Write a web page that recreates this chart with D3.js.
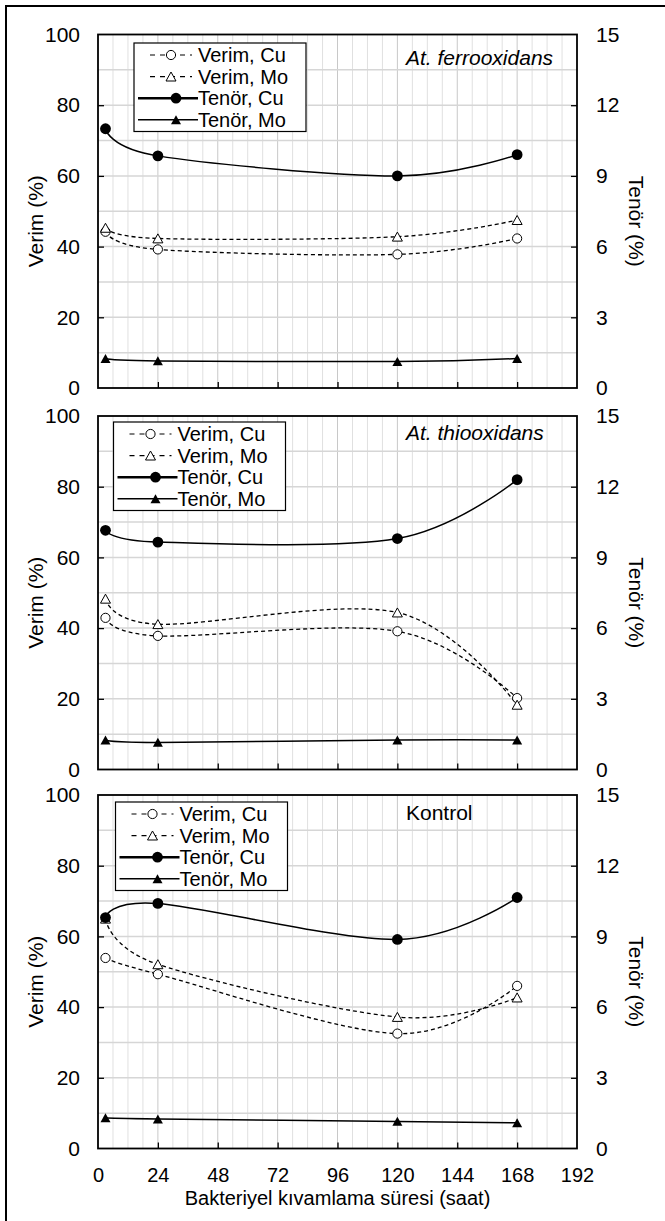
<!DOCTYPE html>
<html><head><meta charset="utf-8">
<script src="https://cdn.jsdelivr.net/npm/d3@7"></script>
<style>
body{margin:0;background:#fff}
svg{display:block}
text{font-family:"Liberation Sans",Arial,sans-serif;fill:#000}
</style>
</head><body><svg id="c" width="665" height="1221"></svg>
<script>
// ---------- data ----------
const hours = [3, 24, 120, 168];
const panelTitles = ["At. ferrooxidans", "At. thiooxidans", "Kontrol"];
const seriesNames = ["Verim, Cu", "Verim, Mo", "Tenör, Cu", "Tenör, Mo"];
// panel 1: At. ferrooxidans
const ferroVerimCu = [44.2, 39.2, 37.8, 42.3];
const ferroVerimMo = [45.3, 42.3, 42.8, 47.5];
const ferroTenorCu = [11.0, 9.85, 9.0, 9.9];
const ferroTenorMo = [1.25, 1.15, 1.12, 1.25];
// panel 2: At. thiooxidans
const thioVerimCu = [42.9, 37.8, 39.1, 20.2];
const thioVerimMo = [48.3, 41.1, 44.4, 18.3];
const thioTenorCu = [10.15, 9.65, 9.8, 12.3];
const thioTenorMo = [1.25, 1.15, 1.25, 1.25];
// panel 3: Kontrol
const kontrolVerimCu = [53.9, 49.3, 32.5, 46.0];
const kontrolVerimMo = [65.0, 52.1, 37.2, 42.7];
const kontrolTenorCu = [9.8, 10.4, 8.87, 10.65];
const kontrolTenorMo = [1.30, 1.25, 1.15, 1.09];

const xTicks = [0, 24, 48, 72, 96, 120, 144, 168, 192];
const verimTicks = [0, 20, 40, 60, 80, 100];
const tenorTicks = [0, 3, 6, 9, 12, 15];
const xTitle = "Bakteriyel kıvamlama süresi (saat)";
const leftTitle = "Verim (%)";
const rightTitle = "Tenör (%)";

const panels = [
  {title: panelTitles[0], italic: true, vCu: ferroVerimCu, vMo: ferroVerimMo, tCu: ferroTenorCu, tMo: ferroTenorMo},
  {title: panelTitles[1], italic: true, vCu: thioVerimCu, vMo: thioVerimMo, tCu: thioTenorCu, tMo: thioTenorMo},
  {title: panelTitles[2], italic: false, vCu: kontrolVerimCu, vMo: kontrolVerimMo, tCu: kontrolTenorCu, tMo: kontrolTenorMo}
];

// ---------- layout ----------
const svg = d3.select("#c");
const L = 98, R = 577, H = 353.5;
const tops = [34.5, 416, 795];
const legendX = [134, 113.5, 115.5];
const legendY = [43, 422, 802];
const noteY = [65, 440, 820];
const FS = 21;

svg.append("path").attr("d", "M6,1225V6H670").attr("fill", "none").attr("stroke", "#000").attr("stroke-width", 2);

const x = d3.scaleLinear().domain([0, 192]).range([L, R]);
const curve = d3.curveCardinal.tension(0);
const triPath = "M0,-4.6L5,4.4L-5,4.4Z";

panels.forEach((p, i) => {
  const top = tops[i], bot = top + H;
  const y = d3.scaleLinear().domain([0, 100]).range([bot, top]);
  const y2 = d3.scaleLinear().domain([0, 15]).range([bot, top]);
  const g = svg.append("g");

  // gridlines
  const minorX = d3.range(6, 192, 6).filter(v => v % 24 !== 0);
  g.selectAll(".vmin").data(minorX).join("line")
    .attr("x1", d => x(d)).attr("x2", d => x(d)).attr("y1", top).attr("y2", bot)
    .attr("stroke", "#e0e0e0").attr("stroke-width", 1);
  g.selectAll(".vmaj").data(xTicks.slice(1, -1)).join("line")
    .attr("x1", d => x(d)).attr("x2", d => x(d)).attr("y1", top).attr("y2", bot)
    .attr("stroke", "#c8c8c8").attr("stroke-width", 1);
  g.selectAll(".hg").data(d3.range(10, 100, 10)).join("line")
    .attr("x1", L).attr("x2", R).attr("y1", d => y(d)).attr("y2", d => y(d))
    .attr("stroke", "#d6d6d6").attr("stroke-width", 1.5);

  // axes
  const ax = (gen) => gen.tickSizeInner(-6).tickSizeOuter(0);
  const gl = g.append("g").attr("transform", `translate(${L},0)`)
    .call(ax(d3.axisLeft(y).tickValues(verimTicks).tickFormat(d3.format("d"))).tickPadding(18));
  const gr = g.append("g").attr("transform", `translate(${R},0)`)
    .call(ax(d3.axisRight(y2).tickValues(tenorTicks).tickFormat(d3.format("d"))).tickPadding(19));
  const gb = g.append("g").attr("transform", `translate(0,${bot})`)
    .call(ax(d3.axisBottom(x).tickValues(xTicks).tickFormat(d3.format("d"))).tickPadding(19));
  [gl, gr, gb].forEach(a => {
    a.select(".domain").remove();
    a.selectAll(".tick line").attr("stroke", "#000").attr("stroke-width", 1.3);
    a.selectAll("text").attr("font-size", FS).attr("font-family", null);
  });
  gb.selectAll("text").attr("font-size", 20);
  gb.selectAll(".tick line").filter(d => d === 0 || d === 192).remove();
  gl.selectAll(".tick line").filter(d => d === 0 || d === 100).remove();
  gr.selectAll(".tick line").filter(d => d === 0 || d === 15).remove();
  if (i < 2) gb.selectAll("text").remove();

  // frame
  g.append("rect").attr("x", L).attr("y", top).attr("width", R - L).attr("height", H)
    .attr("fill", "none").attr("stroke", "#000").attr("stroke-width", 1.8);

  // titles
  g.append("text").attr("transform", `translate(43,${top + H / 2 + 10}) rotate(-90)`)
    .attr("text-anchor", "middle").attr("font-size", FS).text(leftTitle);
  g.append("text").attr("transform", `translate(629,${top + H / 2 + 10}) rotate(90)`)
    .attr("text-anchor", "middle").attr("font-size", FS).text(rightTitle);

  // series
  const mk = (arr) => hours.map((h, k) => ({h, v: arr[k]}));
  const lineV = d3.line().x(d => x(d.h)).y(d => y(d.v)).curve(curve);
  const lineT = d3.line().x(d => x(d.h)).y(d => y2(d.v)).curve(curve);
  const series = [
    {data: mk(p.vCu), line: lineV, sc: y, dash: "4,3", w: 1.3, m: "oc"},
    {data: mk(p.vMo), line: lineV, sc: y, dash: "4,3", w: 1.3, m: "ot"},
    {data: mk(p.tCu), line: lineT, sc: y2, dash: null, w: 1.5, m: "fc"},
    {data: mk(p.tMo), line: lineT, sc: y2, dash: null, w: 1.5, m: "ft"}
  ];
  const drawMarker = (sel, m) => {
    if (m === "oc") sel.append("circle").attr("r", 4.6).attr("fill", "#fff").attr("stroke", "#000").attr("stroke-width", 1);
    if (m === "fc") sel.append("circle").attr("r", 5.4).attr("fill", "#000");
    if (m === "ot") sel.append("path").attr("d", triPath).attr("fill", "#fff").attr("stroke", "#000").attr("stroke-width", 1);
    if (m === "ft") sel.append("path").attr("d", triPath).attr("fill", "#000");
  };
  series.forEach(s => {
    g.append("path").attr("d", s.line(s.data)).attr("fill", "none").attr("stroke", "#000")
      .attr("stroke-width", s.w).attr("stroke-dasharray", s.dash);
  });
  series.forEach(s => {
    s.data.forEach(d => {
      const mg = g.append("g").attr("transform", `translate(${x(d.h)},${s.sc(d.v)})`);
      drawMarker(mg, s.m);
    });
  });

  // annotation
  g.append("text").attr("x", 406).attr("y", noteY[i]).attr("font-size", FS)
    .attr("font-style", p.italic ? "italic" : null).text(p.title);

  // legend
  const lx = legendX[i], ly = legendY[i];
  const lg = g.append("g").attr("transform", `translate(${lx},${ly})`);
  lg.append("rect").attr("width", 172).attr("height", 88.5).attr("fill", "#fff")
    .attr("stroke", "#000").attr("stroke-width", 1.2);
  seriesNames.forEach((name, k) => {
    const ry = 12 + k * 21.6;
    const s = series[k];
    if (s.dash) {
      lg.append("line").attr("x1", 16).attr("x2", 58).attr("y1", ry).attr("y2", ry)
        .attr("stroke", "#000").attr("stroke-width", 1.2).attr("stroke-dasharray", "5,5");
    } else {
      lg.append("line").attr("x1", 4).attr("x2", 64).attr("y1", ry).attr("y2", ry)
        .attr("stroke", "#000").attr("stroke-width", k === 2 ? 2.4 : 1.5);
    }
    const mg = lg.append("g").attr("transform", `translate(${s.dash ? 37 : 42},${ry})`);
    drawMarker(mg, s.m);
    lg.append("text").attr("x", 64).attr("y", ry).attr("dy", "0.35em").attr("font-size", 20).text(name);
  });
});

// x-axis title
svg.append("text").attr("x", (L + R) / 2).attr("y", 1205).attr("text-anchor", "middle")
  .attr("font-size", 20).text(xTitle);
</script>
</body></html>
